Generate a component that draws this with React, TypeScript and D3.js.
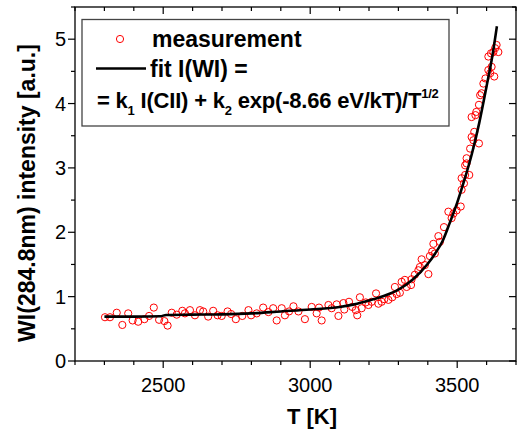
import React from "react";
import * as d3 from "d3";

const measT = [2302, 2319, 2342, 2361, 2381, 2396, 2415, 2436, 2452, 2468, 2486, 2504, 2515, 2529, 2546, 2565, 2574, 2591, 2608, 2625, 2636, 2653, 2670, 2685, 2699, 2719, 2731, 2747, 2769, 2790, 2799, 2818, 2840, 2858, 2874, 2886, 2903, 2914, 2928, 2943, 2960, 2982, 3005, 3022, 3030, 3039, 3062, 3073, 3090, 3096, 3113, 3116, 3132, 3143, 3155, 3160, 3169, 3175, 3189, 3198, 3209, 3224, 3232, 3243, 3252, 3266, 3279, 3288, 3294, 3305, 3311, 3322, 3328, 3343, 3345, 3356, 3368, 3373, 3379, 3390, 3402, 3407, 3415, 3419, 3424, 3436, 3441, 3455, 3470, 3481, 3487, 3498, 3512, 3515, 3515, 3523, 3527, 3532, 3541, 3527, 3532, 3544, 3549, 3555, 3558, 3549, 3562, 3565, 3574, 3574, 3578, 3583, 3589, 3596, 3606, 3617, 3626, 3612, 3606, 3623, 3615, 3634, 3640, 3629];
const measV = [0.68, 0.68, 0.75, 0.56, 0.74, 0.63, 0.61, 0.65, 0.70, 0.83, 0.64, 0.62, 0.55, 0.75, 0.72, 0.78, 0.74, 0.79, 0.71, 0.79, 0.77, 0.69, 0.78, 0.71, 0.70, 0.77, 0.73, 0.65, 0.70, 0.79, 0.71, 0.74, 0.83, 0.76, 0.82, 0.63, 0.82, 0.71, 0.77, 0.85, 0.77, 0.65, 0.84, 0.74, 0.83, 0.63, 0.87, 0.82, 0.88, 0.70, 0.90, 0.80, 0.92, 0.84, 0.79, 0.71, 0.99, 0.82, 0.91, 0.87, 0.92, 1.05, 0.89, 0.92, 0.96, 0.95, 0.99, 1.15, 1.04, 1.06, 1.23, 1.26, 1.15, 1.18, 1.27, 1.34, 1.41, 1.46, 1.58, 1.49, 1.35, 1.63, 1.70, 1.82, 1.67, 1.94, 1.85, 2.08, 2.32, 2.22, 2.29, 2.34, 2.40, 2.66, 2.84, 2.76, 2.89, 3.07, 2.89, 3.04, 3.15, 3.30, 3.48, 3.43, 3.56, 3.79, 3.82, 3.87, 3.98, 3.38, 4.13, 4.16, 4.31, 4.39, 4.52, 4.57, 4.42, 4.47, 4.73, 4.80, 4.78, 4.91, 4.80, 4.86];

const fitT = [2300, 2400, 2490, 2510, 2600, 2700, 2800, 2900, 3000, 3100, 3150, 3200, 3250, 3300, 3350, 3400, 3425, 3450, 3475, 3500, 3525, 3550, 3575, 3600, 3620, 3635];
const fitV = [0.69, 0.69, 0.695, 0.715, 0.72, 0.725, 0.74, 0.77, 0.80, 0.84, 0.88, 0.94, 1.01, 1.11, 1.27, 1.51, 1.67, 1.86, 2.15, 2.46, 2.82, 3.22, 3.70, 4.27, 4.75, 5.2];

const xMajor = [2500, 3000, 3500];
const xMinor = d3.range(2200, 3701, 100);
const yMajor = [0, 1, 2, 3, 4, 5];
const yMinor = d3.range(0, 5.51, 0.5);

const FONT = "'Liberation Sans', Arial, sans-serif";

export default function App() {
  const L = 75, R = 516, T = 7, B = 361;
  const x = d3.scaleLinear().domain([2200, 3700]).range([L, R]);
  const y = d3.scaleLinear().domain([0, 5.5]).range([B, T]);
  const fitPts = fitT.map((t, i) => [t, fitV[i]] as [number, number]);
  const line = d3.line<[number, number]>().x(d => x(d[0])).y(d => y(d[1])).curve(d3.curveMonotoneX);

  return (
    <svg width={518} height={431} style={{ position: "absolute", left: 0, top: 0, background: "#fff" }} fontFamily={FONT}>
      <rect x={0} y={0} width={518} height={431} fill="#fff" />
      <rect x={L} y={T} width={R - L} height={B - T} fill="none" stroke="#000" strokeWidth={1.3} />
      {xMinor.map(v => {
        const major = xMajor.includes(v);
        const len = major ? 7 : 4;
        return (
          <g key={"xt" + v}>
            <line x1={x(v)} x2={x(v)} y1={B} y2={B + len} stroke="#000" strokeWidth={1.2} />
            <line x1={x(v)} x2={x(v)} y1={T} y2={T + len} stroke="#000" strokeWidth={1.2} />
          </g>
        );
      })}
      {yMinor.map(v => {
        const major = Math.abs(v - Math.round(v)) < 1e-6;
        const len = major ? 7 : 4;
        return (
          <g key={"yt" + v}>
            <line x1={L - len} x2={L} y1={y(v)} y2={y(v)} stroke="#000" strokeWidth={1.2} />
            <line x1={R - len} x2={R} y1={y(v)} y2={y(v)} stroke="#000" strokeWidth={1.2} />
          </g>
        );
      })}
      {xMajor.map(v => (
        <text key={"xl" + v} x={x(v)} y={392} textAnchor="middle" fontSize={20} fill="#000">{v}</text>
      ))}
      {yMajor.map(v => (
        <text key={"yl" + v} x={66} y={y(v)} dy="0.36em" textAnchor="end" fontSize={20} fill="#000">{v}</text>
      ))}
      <text x={312} y={424} textAnchor="middle" fontSize={22} fontWeight="bold" fill="#000">T [K]</text>
      <text transform={`translate(35,193) rotate(-90)`} textAnchor="middle" fontSize={23} fontWeight="bold" fill="#000">WI(284.8nm) intensity [a.u.]</text>

      {measT.map((t, i) => (
        <circle key={"m" + i} cx={x(t)} cy={y(measV[i])} r={3.6} fill="none" stroke="#ff0000" strokeWidth={1} />
      ))}
      <path d={line(fitPts) || ""} fill="none" stroke="#000" strokeWidth={2.6} />

      <rect x={82} y={19.5} width={367} height={106.5} fill="#fff" stroke="#444" strokeWidth={1.3} />
      <circle cx={120} cy={39} r={3.6} fill="none" stroke="#ff0000" strokeWidth={1} />
      <text x={152} y={47} fontSize={23} fontWeight="bold" fill="#000">measurement</text>
      <line x1={96} x2={146} y1={68.5} y2={68.5} stroke="#000" strokeWidth={2.6} />
      <text x={150} y={77} fontSize={23} fontWeight="bold" fill="#000">fit I(WI) =</text>
      <text x={97} y={108} fontSize={22} fontWeight="bold" fill="#000" letterSpacing={-0.2}>
        <tspan>= k</tspan>
        <tspan fontSize={13} dy={7}>1</tspan>
        <tspan dy={-7}> I(CII) + k</tspan>
        <tspan fontSize={13} dy={7}>2</tspan>
        <tspan dy={-7}> exp(-8.66 eV/kT)/T</tspan>
        <tspan fontSize={13} dy={-10}>1/2</tspan>
      </text>
    </svg>
  );
}
